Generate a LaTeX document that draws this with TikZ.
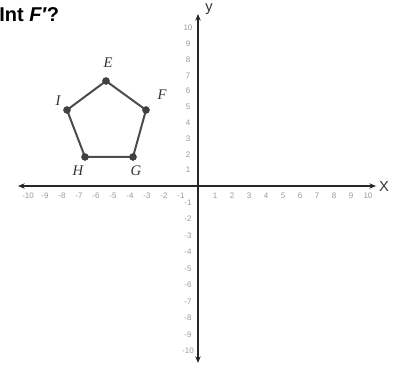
\documentclass[tikz,border=0pt]{standalone}
\usepackage{fontspec}
\setmainfont{Liberation Serif}
\setsansfont{Liberation Sans}
\usetikzlibrary{arrows.meta}
\begin{document}
\begin{tikzpicture}[x=0.75pt,y=-0.75pt,
  axis/.style={line width=1.4pt,draw=black!85,{Stealth[length=5pt,width=4pt]}-{Stealth[length=5pt,width=4pt]}},
  edge/.style={line width=1.5pt,draw=black!70},
  dot/.style={circle,fill=black!75,inner sep=0pt,minimum size=5.5pt},
  vlab/.style={font=\fontsize{11}{11}\selectfont\itshape,text=black!80},
  tick/.style={font=\fontsize{6}{6}\selectfont\sffamily,text=black!40,inner sep=0pt}]
\useasboundingbox (0,0) rectangle (401,370);
% title
\node[anchor=west,inner sep=0pt,font=\fontsize{15}{15}\selectfont\sffamily\bfseries] (title) at (-1,15) {Int \textit{F′}?};
% axes
\coordinate (xl) at (18,186);
\coordinate (xr) at (376,186);
\coordinate (yt) at (198,14);
\coordinate (yb) at (198,363);
\draw[axis] (xl) -- (xr);
\draw[axis] (yb) -- (yt);
\node[font=\fontsize{11}{11}\selectfont\sffamily,text=black!80] (X) at (384,186) {X};
\node[font=\fontsize{11}{11}\selectfont\sffamily,text=black!80] (Y) at (209,9) {y};
% tick labels
\foreach \k in {1,...,10}{
  \node[tick] (xp\k) at ({198+17*\k},196) {\k};
  \node[tick] (xn\k) at ({198-17*\k},196) {-\k};
  \node[tick] (yp\k) at (188,{186-15.8*\k}) {\k};
  \node[tick] (yn\k) at (188,{186+16.5*\k}) {-\k};
}
% pentagon
\node[dot] (E) at (106,81) {};
\node[dot] (F) at (146,110) {};
\node[dot] (G) at (133,157) {};
\node[dot] (H) at (85,157) {};
\node[dot] (I) at (67,110) {};
\draw[edge] (E.center) -- (F.center) -- (G.center) -- (H.center) -- (I.center) -- cycle;
\node[dot] at (E) {};
\node[dot] at (F) {};
\node[dot] at (G) {};
\node[dot] at (H) {};
\node[dot] at (I) {};
\node[vlab] (Elab) at (108,63) {E};
\node[vlab] (Flab) at (162,95) {F};
\node[vlab] (Glab) at (136,171) {G};
\node[vlab] (Hlab) at (78,171) {H};
\node[vlab] (Ilab) at (58,101) {I};
\end{tikzpicture}
\end{document}
